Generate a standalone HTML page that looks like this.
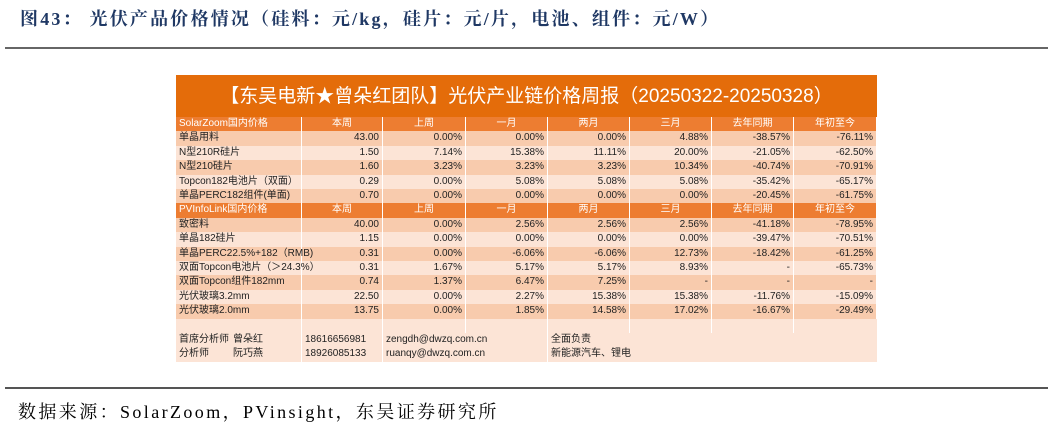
<!DOCTYPE html>
<html><head><meta charset="utf-8"><style>
body{margin:0;width:1053px;height:432px;background:#fff;position:relative;overflow:hidden;font-family:"Liberation Sans","Noto Sans CJK SC",sans-serif}
.fig{position:absolute;left:20px;top:5px;font:bold 18px "Liberation Serif","Noto Serif CJK SC",serif;letter-spacing:2.2px;color:#1F3864;white-space:nowrap}
.rule{position:absolute;left:5px;width:1043px;height:2px;background:#666}
.src{position:absolute;left:18px;top:398px;font:18px "Liberation Serif","Noto Serif CJK SC",serif;letter-spacing:2.4px;color:#000;white-space:nowrap}
#tbl{position:absolute;left:176px;top:75px;width:701px;height:287px;background:#FCE4D6}
.band{position:absolute;left:0;top:0;width:701px;height:42px;background:#E46C0A;color:#fff;font-size:19px;text-align:center;line-height:44px;white-space:nowrap}
.row{position:absolute;left:0;width:701px;height:14.4px}
.cell{position:absolute;top:0;height:100%;font-size:10px;line-height:14.4px;white-space:nowrap;box-sizing:border-box;border-right:1px solid #fff;padding:0 3px;color:#222}
.hd{background:#ED7D31}.hd .cell{color:#fff;text-align:center}
.hd .cell:first-child{text-align:left}
.d1{background:#F8CBAD}.d2{background:#FCE4D6}
.num{text-align:right}
</style></head><body>
<div class="fig">图43：&nbsp;光伏产品价格情况（硅料：元/kg，硅片：元/片，电池、组件：元/W）</div>
<div class="rule" style="top:47px"></div>
<div id="tbl">
<div class="band">【东吴电新★曾朵红团队】光伏产业链价格周报（20250322-20250328）</div>
</div>
<div class="rule" style="top:387px;height:1.5px;background:#555"></div>
<div class="src">数据来源：SolarZoom，PVinsight，东吴证券研究所</div>
<script>
const cols=[0,126,207,290,372,454,536,618,701];
const headers=["本周","上周","一月","两月","三月","去年同期","年初至今"];
const sec1="SolarZoom国内价格";
const sec1Names=["单晶用料","N型210R硅片","N型210硅片","Topcon182电池片（双面）","单晶PERC182组件(单面)"];
const sec1Vals=[
["43.00","0.00%","0.00%","0.00%","4.88%","-38.57%","-76.11%"],
["1.50","7.14%","15.38%","11.11%","20.00%","-21.05%","-62.50%"],
["1.60","3.23%","3.23%","3.23%","10.34%","-40.74%","-70.91%"],
["0.29","0.00%","5.08%","5.08%","5.08%","-35.42%","-65.17%"],
["0.70","0.00%","0.00%","0.00%","0.00%","-20.45%","-61.75%"]];
const sec2="PVInfoLink国内价格";
const sec2Names=["致密料","单晶182硅片","单晶PERC22.5%+182（RMB)","双面Topcon电池片（＞24.3%）","双面Topcon组件182mm","光伏玻璃3.2mm","光伏玻璃2.0mm"];
const sec2Vals=[
["40.00","0.00%","2.56%","2.56%","2.56%","-41.18%","-78.95%"],
["1.15","0.00%","0.00%","0.00%","0.00%","-39.47%","-70.51%"],
["0.31","0.00%","-6.06%","-6.06%","12.73%","-18.42%","-61.25%"],
["0.31","1.67%","5.17%","5.17%","8.93%","-","-65.73%"],
["0.74","1.37%","6.47%","7.25%","-","-","-"],
["22.50","0.00%","2.27%","15.38%","15.38%","-11.76%","-15.09%"],
["13.75","0.00%","1.85%","14.58%","17.02%","-16.67%","-29.49%"]];
const analysts=[["首席分析师","曾朵红","18616656981","zengdh@dwzq.com.cn","全面负责"],["分析师","阮巧燕","18926085133","ruanqy@dwzq.com.cn","新能源汽车、锂电"]];
const tbl=document.getElementById('tbl');
let r=0;const top0=42,rh=14.4;
function mkRow(cls){const d=document.createElement('div');d.className='row '+cls;d.style.top=(top0+r*rh)+'px';r++;tbl.appendChild(d);return d;}
function mkCell(row,i,txt,cls,left,width){const c=document.createElement('div');c.className='cell '+(cls||'');c.style.left=(left!==undefined?left:cols[i])+'px';c.style.width=(width!==undefined?width:cols[i+1]-cols[i])+'px';c.textContent=txt;row.appendChild(c);return c;}
function section(title,names,vals,nm){
 const h=mkRow('hd');
 
 
 mkCell(h,0,title);headers.forEach((t,i)=>mkCell(h,i+1,t));
 names.forEach((n,k)=>{const row=mkRow(k%2?'d2':'d1');
  
  
  mkCell(row,0,n);vals[k].forEach((v,i)=>mkCell(row,i+1,v,'num'));});
}
section(sec1,sec1Names,sec1Vals,'solarzoom');
section(sec2,sec2Names,sec2Vals,'pvinfolink');
const e=mkRow('d2');


for(let i=0;i<7;i++)mkCell(e,i,'');
analysts.forEach((a,k)=>{const row=mkRow('d2');
 
 
 mkCell(row,0,a[0],'',0,56).style.borderRight='none';
 mkCell(row,0,a[1],'',54,72);
 mkCell(row,1,a[2],'',126,81);
 mkCell(row,2,a[3],'',207,165).style.borderRight='1px solid #fff';
 mkCell(row,4,a[4],'',372,329).style.borderRight='none';});
</script>
</body></html>
